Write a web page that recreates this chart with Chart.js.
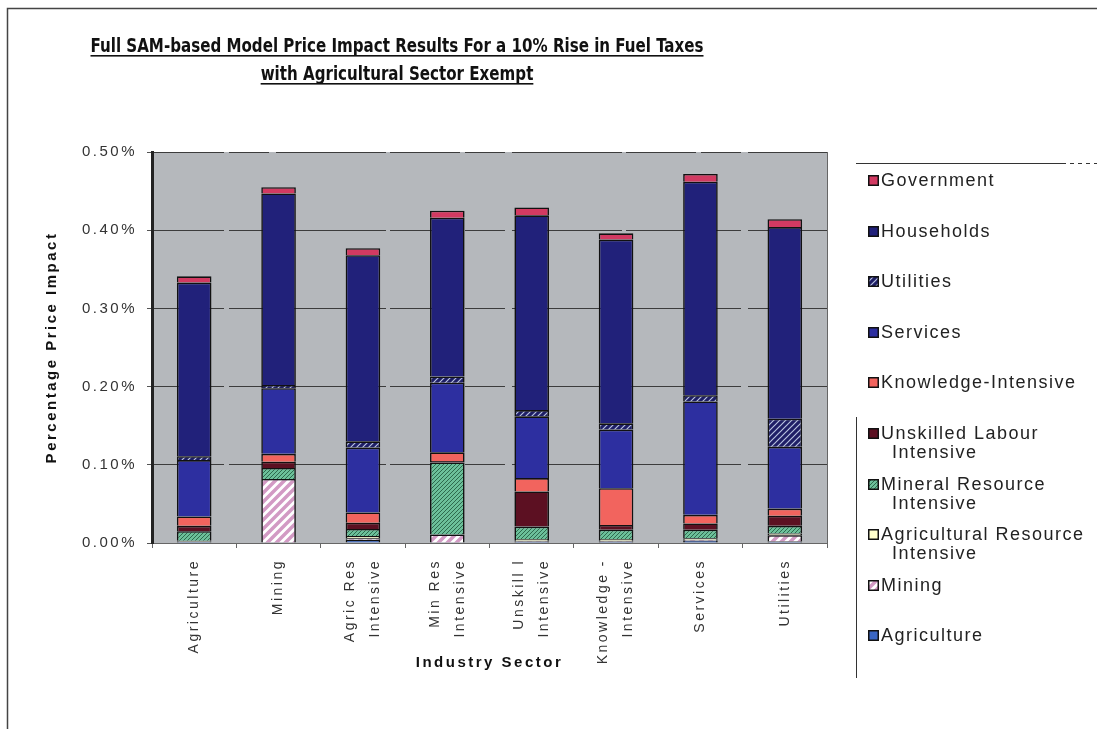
<!DOCTYPE html>
<html>
<head>
<meta charset="utf-8">
<title>Full SAM-based Model Price Impact Results</title>
<script src="https://cdn.jsdelivr.net/npm/chart.js@4.4.1/dist/chart.umd.min.js"></script>
<style>
  html, body { margin: 0; padding: 0; background: #fff; overflow: hidden; }
  #wrap { position: relative; width: 1097px; height: 729px; }
  #legend { position: absolute; left: 868px; top: 171px; font: 18px "Liberation Sans", Arial, sans-serif; letter-spacing: 1.5px; color: #222; }
  #legend .item { position: relative; height: 50.6px; padding-left: 13px; line-height: 19px; white-space: nowrap; }
  #legend canvas { position: absolute; left: 0; top: 4px; }
  #legend .cont { padding-left: 11px; }
</style>
</head>
<body>
<div id="wrap">
  <canvas id="myChart" width="1097" height="729"></canvas>
  <div id="legend"></div>
</div>
<script>
// Sectors along the x-axis (blank lines keep one- and two-line labels centred)
var sectors = [
  ['', 'Agriculture', ''],
  ['', 'Mining', ''],
  ['Agric Res', '', 'Intensive'],
  ['Min Res', '', 'Intensive'],
  ['Unskill l', '', 'Intensive'],
  ['Knowledge -', '', 'Intensive'],
  ['', 'Services', ''],
  ['', 'Utilities', '']
];
var yTickLabels = ['0.00%', '0.10%', '0.20%', '0.30%', '0.40%', '0.50%'];
var titleLines = [
  'Full SAM-based Model Price Impact Results For a 10% Rise in Fuel Taxes',
  'with Agricultural Sector Exempt'
];

// Price impact (%) contributed by each account, per sector
var agriculture = [0.002, 0.000, 0.004, 0.000, 0.002, 0.002, 0.003, 0.002];
var mining      = [0.000, 0.082, 0.002, 0.011, 0.001, 0.001, 0.001, 0.008];
var agricRes    = [0.001, 0.000, 0.003, 0.000, 0.002, 0.002, 0.002, 0.002];
var mineralRes  = [0.012, 0.014, 0.009, 0.092, 0.016, 0.012, 0.011, 0.010];
var unskilled   = [0.007, 0.008, 0.008, 0.002, 0.045, 0.006, 0.008, 0.013];
var knowledge   = [0.012, 0.010, 0.013, 0.011, 0.017, 0.047, 0.011, 0.009];
var services    = [0.072, 0.084, 0.083, 0.089, 0.079, 0.075, 0.145, 0.079];
var utilities   = [0.005, 0.004, 0.008, 0.008, 0.008, 0.008, 0.008, 0.036];
var households  = [0.222, 0.245, 0.238, 0.203, 0.249, 0.235, 0.273, 0.245];
var government  = [0.008, 0.008, 0.009, 0.009, 0.010, 0.008, 0.010, 0.010];

// diagonal "/" hatch tile
function hatch(bg, fg, gap, lw) {
  var c = document.createElement('canvas');
  c.width = gap; c.height = gap;
  var g = c.getContext('2d');
  g.fillStyle = bg;
  g.fillRect(0, 0, gap, gap);
  g.strokeStyle = fg;
  g.lineWidth = lw;
  g.beginPath();
  g.moveTo(0, gap); g.lineTo(gap, 0);
  g.moveTo(-gap / 2, gap / 2); g.lineTo(gap / 2, -gap / 2);
  g.moveTo(gap / 2, gap * 1.5); g.lineTo(gap * 1.5, gap / 2);
  g.stroke();
  return g.createPattern(c, 'repeat');
}

var sans = '"Liberation Sans", Arial, sans-serif';

var backdrop = {
  id: 'backdrop',
  beforeUpdate: function (chart) { chart.ctx.letterSpacing = '2.5px'; },
  beforeDraw: function (chart) {
    var ctx = chart.ctx, a = chart.chartArea;
    ctx.letterSpacing = '2.5px';
    ctx.save();
    ctx.fillStyle = '#b5b8bc';
    ctx.fillRect(a.left, a.top, a.right - a.left, a.bottom - a.top);
    ctx.strokeStyle = '#666';
    ctx.lineWidth = 1;
    ctx.beginPath();
    ctx.moveTo(a.right + 0.5, a.top);
    ctx.lineTo(a.right + 0.5, a.bottom);
    ctx.stroke();
    // outer frame
    ctx.strokeStyle = '#444';
    ctx.lineWidth = 1.5;
    ctx.beginPath();
    ctx.moveTo(7.5, 729);
    ctx.lineTo(7.5, 8.5);
    ctx.lineTo(1097, 8.5);
    ctx.stroke();
    // legend frame
    ctx.strokeStyle = '#333';
    ctx.lineWidth = 1;
    ctx.beginPath();
    ctx.moveTo(856, 163.5);
    ctx.lineTo(1062, 163.5);
    ctx.moveTo(856.5, 417);
    ctx.lineTo(856.5, 678);
    ctx.stroke();
    ctx.setLineDash([4, 4]);
    ctx.beginPath();
    ctx.moveTo(1062, 163.5);
    ctx.lineTo(1097, 163.5);
    ctx.stroke();
    ctx.restore();
  },
  afterDraw: function (chart) {
    // narrow, bold, underlined two-line heading
    var ctx = chart.ctx;
    ctx.save();
    ctx.letterSpacing = '0px';
    ctx.font = 'bold 20px "Liberation Sans Narrow", "DejaVu Sans Condensed", sans-serif';
    ctx.fillStyle = '#111';
    ctx.textAlign = 'center';
    ctx.textBaseline = 'alphabetic';
    var sx = 613 / ctx.measureText(titleLines[0]).width;
    var ys = [52, 80];
    titleLines.forEach(function (t, i) {
      var w = ctx.measureText(t).width;
      ctx.save();
      ctx.translate(397, ys[i]);
      ctx.scale(sx, 1);
      ctx.fillText(t, 0, 0);
      ctx.fillRect(-w / 2, 3, w, 1.6);
      ctx.restore();
    });
    ctx.restore();
  }
};

var ctx = document.getElementById('myChart');
var myChart = new Chart(ctx, {
  type: 'bar',
  data: {
    labels: sectors,
    datasets: [
      { label: 'Agriculture', data: agriculture, backgroundColor: '#3a66c4' },
      { label: 'Mining', data: mining, backgroundColor: hatch('#ffffff', '#d29ac4', 9, 3.5) },
      { label: 'Agricultural Resource\nIntensive', data: agricRes, backgroundColor: '#ffffcc' },
      { label: 'Mineral Resource\nIntensive', data: mineralRes, backgroundColor: hatch('#6cc09a', '#2e6a4d', 4, 1) },
      { label: 'Unskilled Labour\nIntensive', data: unskilled, backgroundColor: '#5c1022' },
      { label: 'Knowledge-Intensive', data: knowledge, backgroundColor: '#f2645e' },
      { label: 'Services', data: services, backgroundColor: '#2d2fa0' },
      { label: 'Utilities', data: utilities, backgroundColor: hatch('#1e1e66', '#b8c2e0', 6, 1.2) },
      { label: 'Households', data: households, backgroundColor: '#21217a' },
      { label: 'Government', data: government, backgroundColor: '#d23a62' }
    ]
  },
  options: {
    responsive: false,
    animation: false,
    layout: { padding: { left: 0, right: 270, top: 152, bottom: 0 } },
    datasets: {
      bar: { categoryPercentage: 1, barPercentage: 0.41, borderColor: '#111', borderWidth: 1.6 }
    },
    plugins: {
      legend: { display: false },
      tooltip: { enabled: false }
    },
    scales: {
      x: {
        stacked: true,
        grid: { offset: true, drawOnChartArea: false, tickLength: 5, color: '#666' },
        border: { color: '#666', width: 1 },
        ticks: {
          autoSkip: false, minRotation: 90, maxRotation: 90,
          padding: 11, labelOffset: -12.5, color: '#333',
          font: { family: sans, size: 14, lineHeight: '12.5px' }
        },
        title: {
          display: true, text: 'Industry Sector', color: '#111',
          font: { family: sans, size: 15, weight: 'bold' },
          padding: { top: 0, bottom: 57 }
        },
        afterFit: function (s) { s.height = 186; }
      },
      y: {
        stacked: true,
        min: 0,
        max: 0.5,
        ticks: {
          stepSize: 0.1, padding: 10, color: '#333',
          font: { family: sans, size: 15 },
          callback: function (v, i) { return yTickLabels[i]; }
        },
        grid: { color: '#3c3c3c', tickColor: '#555', tickLength: 5 },
        border: { color: '#222', width: 3, dash: [70, 5, 40, 7, 110, 4] },
        title: {
          display: true, text: 'Percentage Price Impact', color: '#111',
          font: { family: sans, size: 15, weight: 'bold' },
          padding: { top: 43, bottom: 0 }
        },
        afterFit: function (s) { s.width = 152; }
      }
    }
  },
  plugins: [backdrop]
});

// legend, top entry first
var legendBox = document.getElementById('legend');
myChart.data.datasets.slice().reverse().forEach(function (ds) {
  var item = document.createElement('div');
  item.className = 'item';
  var sw = document.createElement('canvas');
  sw.width = 11; sw.height = 11;
  var g = sw.getContext('2d');
  g.fillStyle = ds.backgroundColor;
  g.fillRect(0, 0, 11, 11);
  g.strokeStyle = '#111';
  g.lineWidth = 1.5;
  g.strokeRect(0.75, 0.75, 9.5, 9.5);
  item.appendChild(sw);
  ds.label.split('\n').forEach(function (line, i) {
    var d = document.createElement('div');
    d.textContent = line;
    if (i) d.className = 'cont';
    item.appendChild(d);
  });
  legendBox.appendChild(item);
});
</script>
</body>
</html>
